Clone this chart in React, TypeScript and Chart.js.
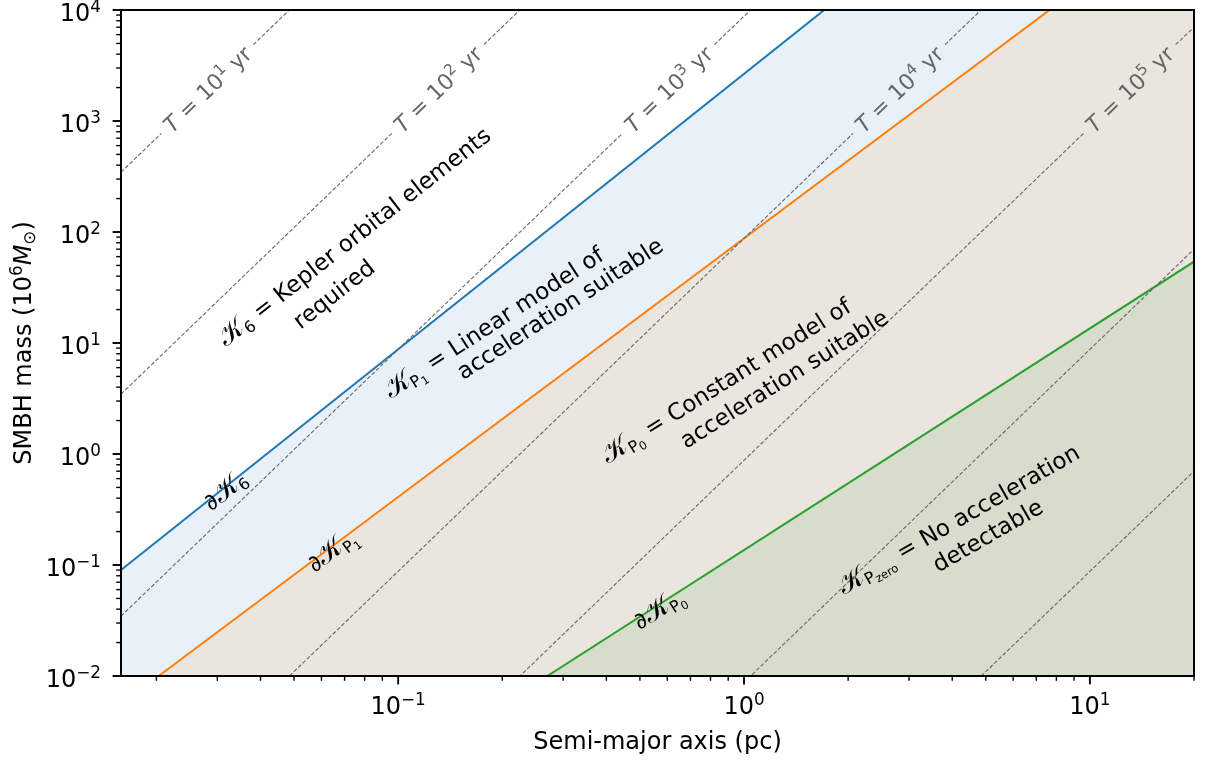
import React, { useEffect, useRef } from 'react';
import { Chart, registerables } from 'chart.js';

Chart.register(...registerables);

// ---- axis ranges ----
const X_MIN = 0.0158;
const X_MAX = 20;
const Y_MIN = 0.01;
const Y_MAX = 1e4;

// ---- boundary lines (semi-major axis in pc, mass in 1e6 Msun) ----
const k6BoundaryA = [0.0158, 20];
const k6BoundaryM = [0.09, 4.5e6];
const kp1BoundaryA = [0.0203, 20];
const kp1BoundaryM = [0.01, 9.4e4];
const kp0BoundaryA = [0.27, 20];
const kp0BoundaryM = [0.01, 54];

// ---- constant-period contours ----
const periodExponents = ['1', '2', '3', '4', '5', '6', '7'];
const periodStartA = 0.0158;
const periodEndA = 20;
const periodStartM = [346, 3.46, 0.0346, 3.46e-4, 3.46e-6, 3.46e-8, 3.46e-10];
const periodEndM = [7.0e11, 7.0e9, 7.0e7, 7.0e5, 7.0e3, 70, 0.7];
const periodGapStartA = [0.02065, 0.0958, 0.4448, 2.065, 9.58, null, null];
const periodGapEndA = [0.03813, 0.1769, 0.8215, 3.813, 17.69, null, null];
const periodGapStartM = 772;
const periodGapEndM = 4873;
const periodLabelA = [0.02806, 0.1302, 0.6045, 2.806, 13.02];
const periodLabelM = 1940;

// ---- ticks ----
const xMajorTicks = [0.1, 1, 10];
const xMajorLabels = ['\u22121', '0', '1'];
const yMajorTicks = [1e-2, 1e-1, 1, 10, 100, 1e3, 1e4];
const yMajorLabels = ['\u22122', '\u22121', '0', '1', '2', '3', '4'];
const minorMultipliers = [2, 3, 4, 5, 6, 7, 8, 9];
const xDecades = [0.01, 0.1, 1, 10];
const yDecades = [0.01, 0.1, 1, 10, 100, 1000];

const X_LABEL = 'Semi-major axis (pc)';

const FONT = "'DejaVu Sans', sans-serif";

type Seg = { t: string; s?: number; dy?: number; it?: boolean };

const CAL: Seg = { t: '\u{1D4A6}', s: 1.2, dy: 0.02 };

type Label = { a: number; m: number; rot: number; size: number; color: string; segs: Seg[] };

const RS = 23;

const regionLabels: Label[] = [
  { a: 0.07456, m: 92.0, rot: 38, size: RS, color: '#000', segs: [CAL, { t: '6', s: 0.7, dy: 0.2 }, { t: ' = Kepler orbital elements' }] },
  { a: 0.065, m: 27.9, rot: 38, size: RS, color: '#000', segs: [{ t: 'required' }] },
  { a: 0.1886, m: 15.5, rot: 33, size: RS, color: '#000', segs: [CAL, { t: 'P', s: 0.7, dy: 0.2 }, { t: '1', s: 0.5, dy: 0.32 }, { t: ' = Linear model of' }] },
  { a: 0.2929, m: 20.7, rot: 33, size: RS, color: '#000', segs: [{ t: 'acceleration suitable' }] },
  { a: 0.8867, m: 4.64, rot: 32, size: RS, color: '#000', segs: [CAL, { t: 'P', s: 0.7, dy: 0.2 }, { t: '0', s: 0.5, dy: 0.32 }, { t: ' = Constant model of' }] },
  { a: 1.302, m: 4.81, rot: 32, size: RS, color: '#000', segs: [{ t: 'acceleration suitable' }] },
  { a: 4.163, m: 0.2634, rot: 30, size: RS, color: '#000', segs: [CAL, { t: 'P', s: 0.7, dy: 0.2 }, { t: 'zero', s: 0.5, dy: 0.32 }, { t: ' = No acceleration' }] },
  { a: 5.055, m: 0.1864, rot: 30, size: RS, color: '#000', segs: [{ t: 'detectable' }] },
  { a: 0.03153, m: 0.474, rot: 38.6, size: RS, color: '#000', segs: [{ t: '\u2202' }, CAL, { t: '6', s: 0.7, dy: 0.2 }] },
  { a: 0.06425, m: 0.1365, rot: 36.8, size: RS, color: '#000', segs: [{ t: '\u2202' }, CAL, { t: 'P', s: 0.7, dy: 0.2 }, { t: '1', s: 0.5, dy: 0.32 }] },
  { a: 0.5652, m: 0.0407, rot: 32.8, size: RS, color: '#000', segs: [{ t: '\u2202' }, CAL, { t: 'P', s: 0.7, dy: 0.2 }, { t: '0', s: 0.5, dy: 0.32 }] },
];

type Opts = { align?: 'center' | 'left' | 'right'; base?: number };

function drawRich(ctx: CanvasRenderingContext2D, segs: Seg[], size: number, x: number, y: number, rotDeg: number, color: string, opts: Opts = {}) {
  ctx.save();
  ctx.translate(x, y);
  ctx.rotate((-rotDeg * Math.PI) / 180);
  const fonts = segs.map((sg) => `${sg.it ? 'italic ' : ''}${(size * (sg.s ?? 1)).toFixed(2)}px ${FONT}`);
  const widths = segs.map((sg, i) => {
    ctx.font = fonts[i];
    return ctx.measureText(sg.t).width;
  });
  const W = widths.reduce((p, c) => p + c, 0);
  const align = opts.align ?? 'center';
  let cx = align === 'center' ? -W / 2 : align === 'right' ? -W : 0;
  const base = opts.base ?? size * 0.36;
  ctx.fillStyle = color;
  ctx.textAlign = 'left';
  ctx.textBaseline = 'alphabetic';
  segs.forEach((sg, i) => {
    ctx.font = fonts[i];
    ctx.fillText(sg.t, cx, base + (sg.dy ?? 0) * size);
    cx += widths[i];
  });
  ctx.restore();
}

const overlayPlugin = {
  id: 'overlay',
  afterDatasetsDraw(chart: any) {
    const ctx: CanvasRenderingContext2D = chart.ctx;
    const xs = chart.scales.x;
    const ys = chart.scales.y;
    periodLabelA.forEach((a, i) => {
      const px = xs.getPixelForValue(a);
      const py = ys.getPixelForValue(periodLabelM);
      drawRich(
        ctx,
        [{ t: 'T', it: true }, { t: ' = 10' }, { t: periodExponents[i], s: 0.7, dy: -0.38 }, { t: ' yr' }],
        22,
        px,
        py,
        44,
        '#666'
      );
    });
    regionLabels.forEach((l) => {
      drawRich(ctx, l.segs, l.size, xs.getPixelForValue(l.a), ys.getPixelForValue(l.m), l.rot, l.color);
    });
  },
  afterDraw(chart: any) {
    const ctx: CanvasRenderingContext2D = chart.ctx;
    const xs = chart.scales.x;
    const ys = chart.scales.y;
    const ca = chart.chartArea;
    ctx.save();
    ctx.strokeStyle = '#000';
    const xMinor: number[] = [];
    xDecades.forEach((d) => minorMultipliers.forEach((m) => { const v = d * m; if (v >= X_MIN && v <= X_MAX) xMinor.push(v); }));
    const yMinor: number[] = [];
    yDecades.forEach((d) => minorMultipliers.forEach((m) => { const v = d * m; if (v >= Y_MIN && v <= Y_MAX) yMinor.push(v); }));
    ctx.lineWidth = 1.4;
    xMinor.forEach((v) => {
      const px = xs.getPixelForValue(v);
      ctx.beginPath(); ctx.moveTo(px, ca.bottom); ctx.lineTo(px, ca.bottom + 4.8); ctx.stroke();
    });
    yMinor.forEach((v) => {
      const py = ys.getPixelForValue(v);
      ctx.beginPath(); ctx.moveTo(ca.left, py); ctx.lineTo(ca.left - 4.8, py); ctx.stroke();
    });
    ctx.lineWidth = 1.9;
    xMajorTicks.forEach((v) => {
      const px = xs.getPixelForValue(v);
      ctx.beginPath(); ctx.moveTo(px, ca.bottom); ctx.lineTo(px, ca.bottom + 8.4); ctx.stroke();
    });
    yMajorTicks.forEach((v) => {
      const py = ys.getPixelForValue(v);
      ctx.beginPath(); ctx.moveTo(ca.left, py); ctx.lineTo(ca.left - 8.4, py); ctx.stroke();
    });
    ctx.lineWidth = 2;
    ctx.strokeRect(ca.left, ca.top, ca.right - ca.left, ca.bottom - ca.top);
    ctx.restore();

    xMajorTicks.forEach((v, i) => {
      const px = xs.getPixelForValue(v);
      drawRich(ctx, [{ t: '10' }, { t: xMajorLabels[i], s: 0.7, dy: -0.38 }], 24, px, ca.bottom + 38, 0, '#000', { base: 0 });
    });
    yMajorTicks.forEach((v, i) => {
      const py = ys.getPixelForValue(v);
      drawRich(ctx, [{ t: '10' }, { t: yMajorLabels[i], s: 0.7, dy: -0.38 }], 24, ca.left - 20, py + 11, 0, '#000', { align: 'right', base: 0 });
    });
    const cxm = (ca.left + ca.right) / 2;
    drawRich(ctx, [{ t: X_LABEL }], 24, cxm, 749, 0, '#000', { base: 0 });
    const cym = (ca.top + ca.bottom) / 2;
    drawRich(
      ctx,
      [{ t: 'SMBH mass (10' }, { t: '6', s: 0.7, dy: -0.38 }, { t: 'M', it: true }, { t: '\u2299', s: 0.7, dy: 0.18 }, { t: ')' }],
      24,
      31,
      cym,
      90,
      '#000',
      { base: 0 }
    );
  },
};

function lineData(xsArr: number[], ysArr: number[]) {
  return xsArr.map((x, i) => ({ x, y: ysArr[i] }));
}

export default function App() {
  const ref = useRef<HTMLCanvasElement | null>(null);
  useEffect(() => {
    if (!ref.current) return;
    const periodSets = periodExponents.map((_, i) => {
      const pts: any[] = [{ x: periodStartA, y: periodStartM[i] }];
      const g1 = periodGapStartA[i];
      const g2 = periodGapEndA[i];
      if (g1 !== null && g2 !== null) {
        pts.push({ x: g1, y: periodGapStartM });
        pts.push({ x: Math.sqrt(g1 * g2), y: null });
        pts.push({ x: g2, y: periodGapEndM });
      }
      pts.push({ x: periodEndA, y: periodEndM[i] });
      return {
        data: pts,
        borderColor: '#666',
        borderWidth: 1.1,
        borderDash: [4, 2],
        pointRadius: 0,
        fill: false,
        spanGaps: false,
        order: 0,
      };
    });
    const chart = new Chart(ref.current, {
      type: 'line',
      data: {
        datasets: [
          { data: lineData(k6BoundaryA, k6BoundaryM), borderColor: '#1f77b4', backgroundColor: 'rgba(31,119,180,0.1)', borderWidth: 2, pointRadius: 0, fill: 'start', order: 3 },
          { data: lineData(kp1BoundaryA, kp1BoundaryM), borderColor: '#ff7f0e', backgroundColor: 'rgba(255,127,14,0.1)', borderWidth: 2, pointRadius: 0, fill: 'start', order: 2 },
          { data: lineData(kp0BoundaryA, kp0BoundaryM), borderColor: '#2ca02c', backgroundColor: 'rgba(44,160,44,0.1)', borderWidth: 2, pointRadius: 0, fill: 'start', order: 1 },
          ...periodSets,
        ] as any,
      },
      options: {
        animation: false,
        responsive: false,
        devicePixelRatio: 1,
        layout: { padding: { left: 121, right: 16, top: 10, bottom: 84 } },
        scales: {
          x: { type: 'logarithmic', min: X_MIN, max: X_MAX, display: false },
          y: { type: 'logarithmic', min: Y_MIN, max: Y_MAX, display: false },
        },
        plugins: { legend: { display: false }, tooltip: { enabled: false } },
        elements: { line: { tension: 0 } },
      } as any,
      plugins: [overlayPlugin],
    });
    return () => chart.destroy();
  }, []);
  return (
    <div style={{ position: 'fixed', left: 0, top: 0, width: 1210, height: 760, background: '#fff' }}>
      <canvas ref={ref} width={1210} height={760} />
    </div>
  );
}
